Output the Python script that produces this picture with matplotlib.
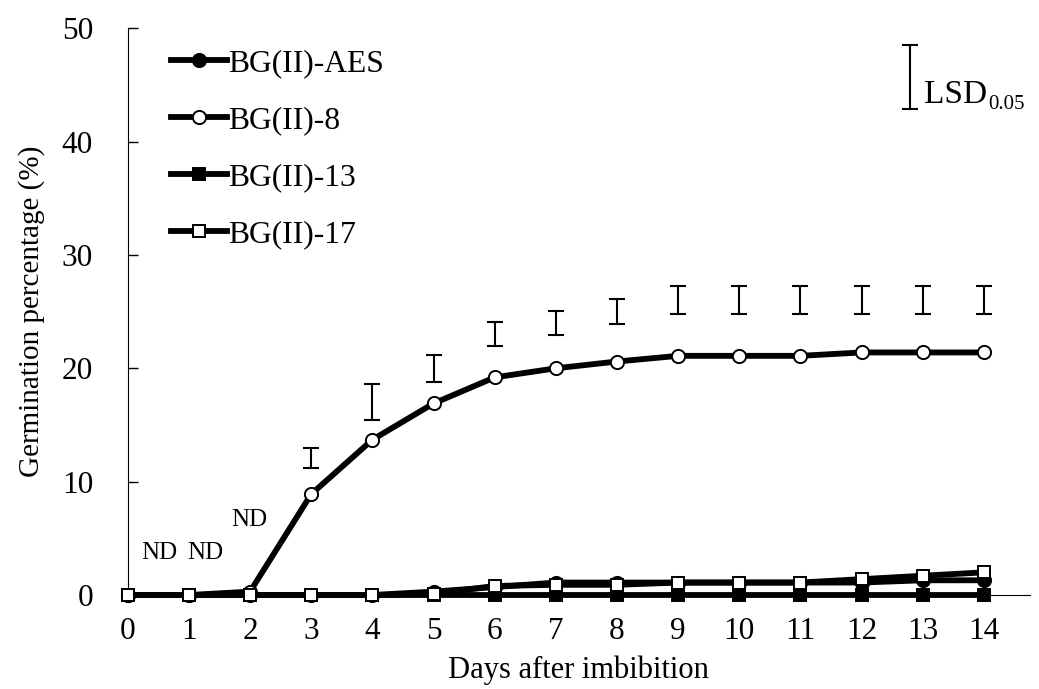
import matplotlib
matplotlib.use("Agg")
import matplotlib.pyplot as plt

plt.rcParams['font.family'] = ['Liberation Serif', 'DejaVu Serif']

days = list(range(15))
x_labels = [str(d) for d in days]

bg_aes = [0, 0, 0, 0, 0, 0.3, 0.7, 1.1, 1.1, 1.1, 1.1, 1.1, 1.1, 1.3, 1.3]
bg_8 = [0, 0, 0.3, 8.9, 13.7, 16.9, 19.2, 20.0, 20.6, 21.1, 21.1, 21.1, 21.4, 21.4, 21.4]
bg_13 = [0] * 15
bg_17 = [0, 0, 0, 0, 0, 0.1, 0.8, 0.9, 0.9, 1.1, 1.1, 1.1, 1.4, 1.7, 2.0]

# LSD(0.05) bars drawn above the BG(II)-8 curve, days 3-14
lsd_days = list(range(3, 15))
lsd_low = [11.2, 15.4, 18.8, 22.0, 22.9, 23.9, 24.8, 24.8, 24.8, 24.8, 24.8, 24.8]
lsd_high = [13.0, 18.6, 21.2, 24.1, 25.1, 26.1, 27.3, 27.3, 27.3, 27.3, 27.3, 27.3]

# reference LSD bar in the upper-right corner
ref_lsd_x = 12.8
ref_lsd = (42.9, 48.5)

nd_labels = [("ND", 0.51, 3.7), ("ND", 1.27, 3.7), ("ND", 1.99, 6.6)]

fig = plt.figure(figsize=(10.39, 6.89), dpi=100)
ax = fig.add_axes([0.123, 0.1364, 0.868, 0.8226])

lw = 4.2
ms = 9.5
mew = 1.4
ax.plot(days, bg_8, color='black', lw=lw, marker='o', ms=ms, mfc='white', mec='black', mew=mew, label='BG(II)-8', zorder=3)
ax.plot(days, bg_aes, color='black', lw=lw, marker='o', ms=ms, mfc='black', mec='black', mew=mew, label='BG(II)-AES', zorder=4)
ax.plot(days, bg_13, color='black', lw=lw, marker='s', ms=ms - 0.5, mfc='black', mec='black', mew=mew, label='BG(II)-13', zorder=5)
ax.plot(days, bg_17, color='black', lw=lw, marker='s', ms=ms - 0.5, mfc='white', mec='black', mew=mew, label='BG(II)-17', zorder=6)

centers = [(lo + hi) / 2 for lo, hi in zip(lsd_low, lsd_high)]
halves = [(hi - lo) / 2 for lo, hi in zip(lsd_low, lsd_high)]
ax.errorbar(lsd_days, centers, yerr=halves, fmt='none', ecolor='black', elinewidth=1.5, capsize=6, capthick=1.5, zorder=2)
ax.errorbar([ref_lsd_x], [(ref_lsd[0] + ref_lsd[1]) / 2], yerr=[(ref_lsd[1] - ref_lsd[0]) / 2],
            fmt='none', ecolor='black', elinewidth=1.5, capsize=6, capthick=1.5)
ax.annotate('LSD', xy=(ref_lsd_x, ref_lsd[0]), xytext=(10, 4), textcoords='offset points',
            fontsize=24, ha='left', va='baseline')
ax.annotate('0.05', xy=(ref_lsd_x, ref_lsd[0]), xytext=(56, 0), textcoords='offset points',
            fontsize=15, ha='left', va='baseline')

for txt, xx, yy in nd_labels:
    ax.text(xx, yy, txt, fontsize=18, ha='center', va='center')

ax.set_xlim(0, 14.75)
ax.set_ylim(0, 50)
ax.set_xticks(days)
ax.set_xticklabels(x_labels)
ax.set_yticks(range(0, 51, 10))
ax.tick_params(axis='y', direction='in', length=7, width=1, labelsize=22.5, pad=25)
ax.tick_params(axis='x', length=0, labelsize=22.5, pad=16)
ax.spines['top'].set_visible(False)
ax.spines['right'].set_visible(False)
for line in ax.lines:
    line.set_clip_on(False)

ax.set_xlabel('Days after imbibition', fontsize=22, labelpad=7)
ax.set_ylabel('Germination percentage (%)', fontsize=21, labelpad=12)

handles, labels = ax.get_legend_handles_labels()
order = [1, 0, 2, 3]
ax.legend([handles[i] for i in order], [labels[i] for i in order], loc='upper left',
          bbox_to_anchor=(0.027, 0.997), frameon=False, fontsize=22.8, handlelength=1.75,
          handletextpad=0.05, labelspacing=0.88, borderaxespad=0.2)

fig.savefig('out.png', dpi=100)
